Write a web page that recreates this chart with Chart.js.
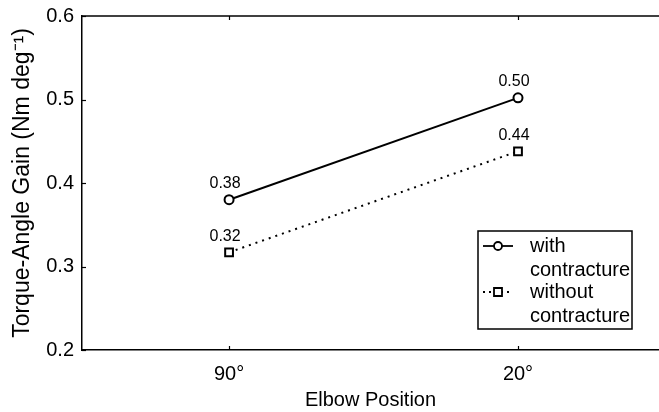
<!DOCTYPE html>
<html>
<head>
<meta charset="utf-8">
<script src="https://cdn.jsdelivr.net/npm/chart.js@4"></script>
<style>
html,body{margin:0;padding:0;background:#fff;}
#wrap{width:659px;height:412px;position:relative;}
</style>
</head>
<body>
<div id="wrap"><canvas id="c" width="659" height="412"></canvas></div>
<script>
const categories = ["90°", "20°"];
const categoryPositions = [1, 2];
const withContracture = [0.38, 0.502];
const withoutContracture = [0.317, 0.438];
const withLabels = ["0.38", "0.50"];
const withoutLabels = ["0.32", "0.44"];
const yTicks = [0.2, 0.3, 0.4, 0.5, 0.6];
const seriesNames = [["with", "contracture"], ["without", "contracture"]];

const FONT = "'Liberation Sans', Arial, Helvetica, sans-serif";

const toPoints = (vals) => vals.map((v, i) => ({x: categoryPositions[i], y: v}));

const annotate = {
  id: 'annotate',
  afterDatasetsDraw(chart) {
    const ctx = chart.ctx;
    const xs = chart.scales.x, ys = chart.scales.y;
    const area = chart.chartArea;
    ctx.save();
    // top box edge
    ctx.strokeStyle = '#000';
    ctx.lineWidth = 1.5;
    ctx.beginPath(); ctx.moveTo(area.left, area.top); ctx.lineTo(area.right, area.top); ctx.stroke();
    // inward ticks
    ctx.lineWidth = 1.2;
    yTicks.forEach(v => {
      const py = Math.round(ys.getPixelForValue(v)) + 0.5;
      ctx.beginPath(); ctx.moveTo(area.left, py); ctx.lineTo(area.left + 4, py); ctx.stroke();
    });
    categoryPositions.forEach(v => {
      const px = Math.round(xs.getPixelForValue(v)) + 0.5;
      ctx.beginPath(); ctx.moveTo(px, area.bottom); ctx.lineTo(px, area.bottom - 4); ctx.stroke();
      ctx.beginPath(); ctx.moveTo(px, area.top); ctx.lineTo(px, area.top + 4); ctx.stroke();
    });
    // data labels
    ctx.fillStyle = '#000';
    ctx.font = "16px " + FONT;
    ctx.textAlign = 'center';
    ctx.textBaseline = 'middle';
    const sets = [[withContracture, withLabels], [withoutContracture, withoutLabels]];
    sets.forEach(([vals, labs]) => {
      vals.forEach((v, i) => {
        const px = xs.getPixelForValue(categoryPositions[i]);
        const py = ys.getPixelForValue(v);
        ctx.fillText(labs[i], px - 4, py - 16);
      });
    });
    // legend
    const lx = 478, ly = 231, lw = 154, lh = 98;
    ctx.fillStyle = '#fff';
    ctx.fillRect(lx, ly, lw, lh);
    ctx.strokeStyle = '#000';
    ctx.lineWidth = 1.5;
    ctx.setLineDash([]);
    ctx.strokeRect(lx, ly, lw, lh);
    const entries = [
      {y: 246, dash: [], style: 'circle'},
      {y: 292, dash: [2, 4], style: 'rect'}
    ];
    ctx.font = "20px " + FONT;
    ctx.textAlign = 'left';
    entries.forEach((e, k) => {
      ctx.lineWidth = 1.8;
      ctx.setLineDash(e.dash);
      ctx.beginPath(); ctx.moveTo(483, e.y); ctx.lineTo(513, e.y); ctx.stroke();
      ctx.setLineDash([]);
      ctx.fillStyle = '#fff';
      ctx.beginPath();
      if (e.style === 'circle') { ctx.arc(498, e.y, 4, 0, Math.PI * 2); }
      else { ctx.rect(494, e.y - 4, 8, 8); }
      ctx.fill(); ctx.stroke();
      ctx.fillStyle = '#000';
      ctx.fillText(seriesNames[k][0], 530, e.y);
      ctx.fillText(seriesNames[k][1], 530, e.y + 24);
    });
    ctx.restore();
  }
};

new Chart(document.getElementById('c'), {
  type: 'line',
  data: {
    datasets: [
      {
        label: 'with contracture',
        data: toPoints(withContracture),
        borderColor: '#000',
        borderWidth: 2,
        pointStyle: 'circle',
        pointRadius: 4.5,
        pointBorderWidth: 2,
        pointBackgroundColor: '#fff',
        pointBorderColor: '#000',
        tension: 0
      },
      {
        label: 'without contracture',
        data: toPoints(withoutContracture),
        borderColor: '#000',
        borderWidth: 2,
        borderDash: [2, 5],
        pointStyle: 'rect',
        pointRadius: 5.5,
        pointBorderWidth: 2,
        pointBackgroundColor: '#fff',
        pointBorderColor: '#000',
        tension: 0
      }
    ]
  },
  options: {
    responsive: false,
    animation: false,
    devicePixelRatio: 1,
    layout: {autoPadding: false, padding: {left: 0, right: 0, top: 16, bottom: 0}},
    plugins: {legend: {display: false}, tooltip: {enabled: false}},
    scales: {
      x: {
        type: 'linear',
        min: 0.491,
        max: 2.488,
        afterBuildTicks(s) { s.ticks = categoryPositions.map(v => ({value: v})); },
        afterFit(s) { s.height = 62; s.paddingLeft = 0; s.paddingRight = 0; },
        grid: {display: false, drawTicks: false},
        border: {display: true, color: '#000', width: 1.5},
        ticks: {
          color: '#000',
          font: {family: FONT, size: 20},
          padding: 12,
          maxRotation: 0,
          callback: (v) => categories[categoryPositions.indexOf(v)] || ''
        },
        title: {display: true, text: 'Elbow Position', color: '#000', font: {family: FONT, size: 20}, padding: {top: 4, bottom: 0}}
      },
      y: {
        min: 0.2,
        max: 0.6,
        afterBuildTicks(s) { s.ticks = yTicks.map(v => ({value: v})); },
        afterFit(s) { s.width = 82; s.paddingTop = 0; s.paddingBottom = 0; },
        grid: {display: false, drawTicks: false},
        border: {display: true, color: '#000', width: 1.5},
        ticks: {
          color: '#000',
          font: {family: FONT, size: 20},
          padding: 8,
          callback: (v) => v.toFixed(1)
        },
        title: {display: true, text: 'Torque-Angle Gain (Nm deg⁻¹)', color: '#000', font: {family: FONT, size: 23}, padding: {top: 9, bottom: 0}}
      }
    }
  },
  plugins: [annotate]
});
</script>
</body>
</html>
